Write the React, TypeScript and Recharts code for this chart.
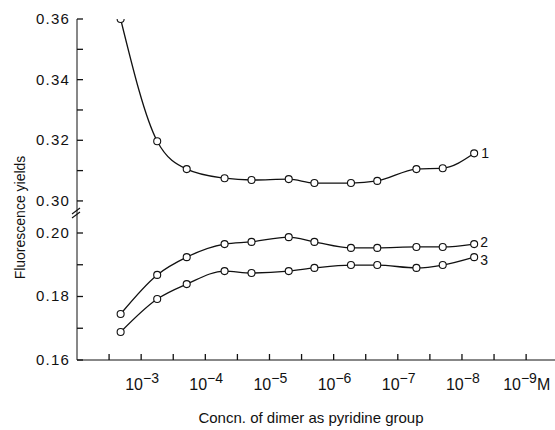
import { LineChart, Line, XAxis, YAxis, ReferenceDot } from 'recharts'

// x values are -log10 of the concentration (M), so 3 means 10^-3 M
const concn = [2.68, 3.25, 3.71, 4.3, 4.72, 5.3, 5.7, 6.27, 6.68, 7.29, 7.7, 8.19]

const yield1 = [0.36, 0.3197, 0.3105, 0.3075, 0.3069, 0.3072, 0.3059, 0.3059, 0.3066, 0.3105, 0.3108, 0.3157]
const yield2 = [0.1745, 0.1868, 0.1924, 0.1965, 0.1972, 0.1987, 0.1972, 0.1953, 0.1953, 0.1956, 0.1956, 0.1965]
const yield3 = [0.1688, 0.1792, 0.1839, 0.188, 0.1874, 0.188, 0.189, 0.1899, 0.1899, 0.189, 0.1899, 0.1924]

const yTicks = [0.16, 0.17, 0.18, 0.19, 0.2, 0.3, 0.31, 0.32, 0.33, 0.34, 0.35, 0.36]
const yLabels = [0.16, 0.18, 0.2, 0.3, 0.32, 0.34, 0.36]
const xTicks = [2.5, 3, 3.5, 4, 4.5, 5, 5.5, 6, 6.5, 7, 7.5, 8, 8.5, 9]

// broken axis: values above the break are squeezed down next to the 0.16-0.20 part
const BREAK_AT = 0.25
const UPPER_BASE = 0.2101
const UPPER_SCALE = 0.955
const toAxis = (v: number) => (v > BREAK_AT ? UPPER_BASE + (v - 0.3) * UPPER_SCALE : v)
const fromAxis = (v: number) => (v > 0.205 ? (v - UPPER_BASE) / UPPER_SCALE + 0.3 : v)

const data = concn.map((c, i) => ({
  c,
  s1: toAxis(yield1[i]),
  s2: toAxis(yield2[i]),
  s3: toAxis(yield3[i]),
}))

const X_MIN = 2
const FONT = '"Liberation Sans", Arial, sans-serif'
const INK = '#111'

function YTick(props: any) {
  const { x, y, payload } = props
  const real = Math.round(fromAxis(payload.value) * 100) / 100
  if (!yLabels.some((l) => Math.abs(l - real) < 1e-6)) return <g />
  return (
    <text x={x - 7} y={y} dy={5} textAnchor="end" fontSize={15} letterSpacing={1.2} fill={INK} fontFamily={FONT}>
      {real.toFixed(2)}
    </text>
  )
}

function XTick(props: any) {
  const { x, y, payload } = props
  const v = payload.value
  return (
    <g>
      <path d={`M${x},${y}v-6`} stroke={INK} strokeWidth={1.3} fill="none" />
      {Number.isInteger(v) && (
        <text x={x - (v === 9 ? 23 : 16)} y={y + 30} textAnchor="start" fontSize={16} fill={INK} fontFamily={FONT}>
          <tspan>10</tspan>
          <tspan dy={-7} fontSize={14}>{`−${v}`}</tspan>
          {v === 9 && (
            <tspan dy={7} fontSize={16}>
              M
            </tspan>
          )}
        </text>
      )}
    </g>
  )
}

const seriesLabel = (name: string, dx: number, dy: number) => (props: any) => {
  if (props.index !== concn.length - 1) return <g />
  return (
    <text x={props.x + dx} y={props.y + dy} fontSize={14} fill={INK} fontFamily={FONT}>
      {name}
    </text>
  )
}

// short inward tick on the y axis
const YTickMark = (props: any) => {
  const { cx, cy } = props
  return <line x1={cx} y1={cy} x2={cx + 6} y2={cy} stroke={INK} strokeWidth={1.3} />
}

const BreakMark = (props: any) => {
  const { cx, cy } = props
  return (
    <g stroke={INK} strokeWidth={1.1}>
      <line x1={cx - 5} y1={cy + 1} x2={cx + 3} y2={cy - 5} />
      <line x1={cx - 5} y1={cy + 5} x2={cx + 3} y2={cy - 1} />
    </g>
  )
}

const dotStyle = { r: 3.5, fill: '#fff', stroke: INK, strokeWidth: 1.1 }

export default function App() {
  return (
    <div style={{ position: 'absolute', left: 0, top: 0, background: '#fff' }}>
      <LineChart width={555} height={430} data={data} margin={{ top: 19, right: 0, left: 0, bottom: 40 }}>
        <XAxis
          dataKey="c"
          type="number"
          domain={[X_MIN, 9.45]}
          ticks={xTicks}
          allowDataOverflow
          height={30}
          stroke={INK}
          tickLine={false}
          tickSize={0}
          tickMargin={0}
          tick={<XTick />}
          label={{
            value: 'Concn. of dimer as pyridine group',
            position: 'bottom',
            offset: 22,
            fontSize: 15,
            fill: INK,
            fontFamily: FONT,
            dx: -5,
          }}
        />
        <YAxis
          type="number"
          domain={[0.16, toAxis(0.36)]}
          ticks={yTicks.map(toAxis)}
          allowDataOverflow
          width={77}
          stroke={INK}
          tickLine={false}
          tickSize={0}
          tickMargin={0}
          tick={<YTick />}
          label={{
            content: (p: any) => {
              const vb = p.viewBox || { x: 0, y: 19, width: 77, height: 341 }
              const cx = vb.x + 20
              const cy = vb.y + vb.height / 2 + 28
              return (
                <text
                  x={cx}
                  y={cy}
                  transform={`rotate(-90, ${cx}, ${cy})`}
                  textAnchor="middle"
                  dominantBaseline="central"
                  fontSize={14}
                  fill={INK}
                  fontFamily={FONT}
                >
                  Fluorescence yields
                </text>
              )
            },
          }}
        />
        {yTicks.map((t) => (
          <ReferenceDot key={t} x={X_MIN} y={toAxis(t)} r={0} ifOverflow="visible" shape={YTickMark} />
        ))}
        <ReferenceDot x={X_MIN} y={0.2063} r={0} ifOverflow="visible" shape={BreakMark} />
        <Line
          type="monotone"
          dataKey="s1"
          stroke={INK}
          strokeWidth={1.3}
          dot={dotStyle}
          activeDot={false}
          label={seriesLabel('1', 7, 5)}
          isAnimationActive={false}
        />
        <Line
          type="monotone"
          dataKey="s2"
          stroke={INK}
          strokeWidth={1.3}
          dot={dotStyle}
          activeDot={false}
          label={seriesLabel('2', 6, 3)}
          isAnimationActive={false}
        />
        <Line
          type="monotone"
          dataKey="s3"
          stroke={INK}
          strokeWidth={1.3}
          dot={dotStyle}
          activeDot={false}
          label={seriesLabel('3', 6, 8)}
          isAnimationActive={false}
        />
      </LineChart>
    </div>
  )
}
